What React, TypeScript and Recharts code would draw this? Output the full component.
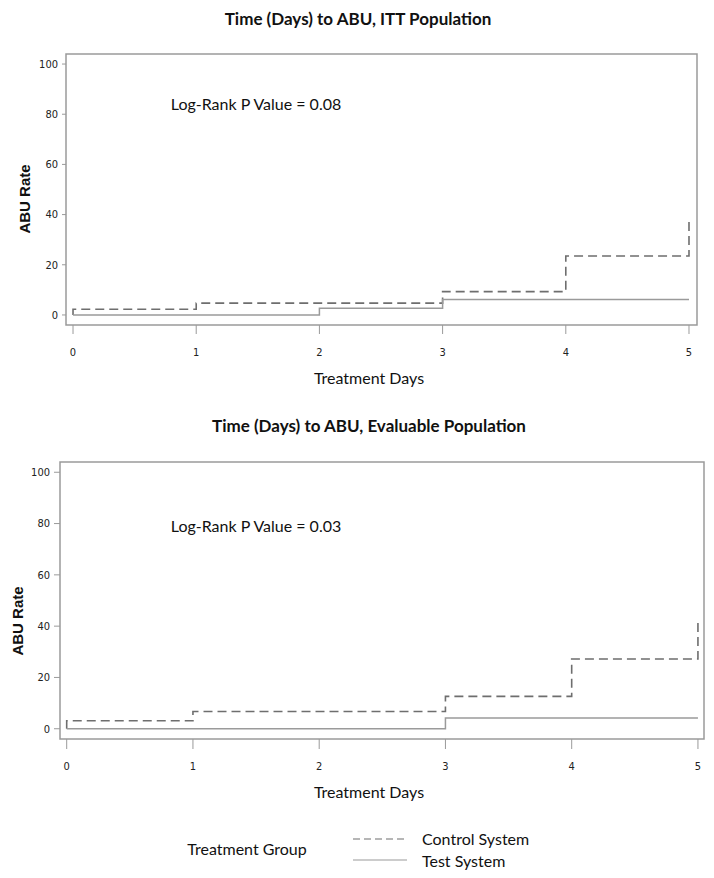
import React from "react";
import { LineChart, Line, XAxis, YAxis, ReferenceArea } from "recharts";

// ITT population (day, ABU rate %)
const ITT_CONTROL_DAYS = [0, 0, 1, 3, 4, 5];
const ITT_CONTROL_RATE = [0, 2.3, 4.7, 9.3, 23.5, 38.8];
const ITT_TEST_DAYS = [0, 2, 3, 5];
const ITT_TEST_RATE = [0, 2.7, 6.2, 6.2];

// Evaluable population
const EVAL_CONTROL_DAYS = [0, 0, 1, 3, 4, 5];
const EVAL_CONTROL_RATE = [0, 3.1, 6.7, 12.6, 27.2, 42];
const EVAL_TEST_DAYS = [0, 3, 5];
const EVAL_TEST_RATE = [0, 4.2, 4.2];

const DAY_TICKS = [0, 1, 2, 3, 4, 5];
const RATE_TICKS = [0, 20, 40, 60, 80, 100];

const toRows = (days: number[], rates: number[]) =>
  days.map((d, i) => ({ day: d, rate: rates[i] }));

const FRAME = "#9a9a9a";
const CONTROL_COLOR = "#6e6e6e";
const TEST_COLOR = "#9a9a9a";
const TICK_FONT = {
  fontSize: 11,
  fill: "#222",
  fontFamily: "'Liberation Sans Narrow', 'DejaVu Sans Condensed', 'Liberation Sans', sans-serif",
};

function Txt({ x, y, children, size = 16, bold = false, font = "Lato", rotate = 0, anchor = "center" }: any) {
  const tx = anchor === "center" ? "-50%" : "0";
  return (
    <div
      style={{
        position: "absolute",
        left: x,
        top: y,
        transform: `translate(${tx}, -50%) rotate(${rotate}deg)`,
        fontSize: size,
        fontWeight: bold ? 700 : 400,
        fontFamily: font,
        color: "#111",
        whiteSpace: "nowrap",
        lineHeight: 1,
      }}
    >
      {children}
    </div>
  );
}

function KMPlot({
  control, test, xDomain, margin, yWidth, yTickSize, xTickSize, xTickMargin,
}: any) {
  return (
    <LineChart width={714} height={400} margin={margin}>
      <XAxis
        type="number"
        dataKey="day"
        domain={xDomain}
        ticks={DAY_TICKS}
        allowDataOverflow
        axisLine={false}
        tickLine={{ stroke: FRAME }}
        tickSize={xTickSize}
        tickMargin={xTickMargin}
        tick={TICK_FONT}
        height={40}
      />
      <YAxis
        type="number"
        dataKey="rate"
        domain={[-4, 104]}
        ticks={RATE_TICKS}
        allowDataOverflow
        axisLine={false}
        tickLine={{ stroke: FRAME }}
        tickSize={yTickSize}
        tickMargin={4}
        tick={TICK_FONT}
        width={yWidth}
      />
      <ReferenceArea x1={xDomain[0]} x2={xDomain[1]} y1={-4} y2={104} fill="none" stroke={FRAME} strokeWidth={1.5} />
      <Line
        data={control}
        dataKey="rate"
        type="stepAfter"
        stroke={CONTROL_COLOR}
        strokeWidth={1.6}
        strokeDasharray="9 5"
        dot={false}
        isAnimationActive={false}
      />
      <Line
        data={test}
        dataKey="rate"
        type="stepAfter"
        stroke={TEST_COLOR}
        strokeWidth={1.5}
        dot={false}
        isAnimationActive={false}
      />
    </LineChart>
  );
}

export default function App() {
  return (
    <div style={{ position: "absolute", left: 0, top: 0, width: 714, height: 878, background: "#fff", overflow: "hidden" }}>
      <div style={{ position: "absolute", left: 0, top: 0 }}>
        <KMPlot
          control={toRows(ITT_CONTROL_DAYS, ITT_CONTROL_RATE)}
          test={toRows(ITT_TEST_DAYS, ITT_TEST_RATE)}
          xDomain={[-0.057, 5.065]}
          margin={{ top: 54, right: 17, left: 0, bottom: 35 }}
          yWidth={66}
          yTickSize={4}
          xTickSize={9}
          xTickMargin={14}
        />
      </div>
      <div style={{ position: "absolute", left: 0, top: 400 }}>
        <KMPlot
          control={toRows(EVAL_CONTROL_DAYS, EVAL_CONTROL_RATE)}
          test={toRows(EVAL_TEST_DAYS, EVAL_TEST_RATE)}
          xDomain={[-0.053, 5.048]}
          margin={{ top: 62, right: 10, left: 0, bottom: 21 }}
          yWidth={60}
          yTickSize={6}
          xTickSize={10}
          xTickMargin={13}
        />
      </div>

      <Txt x={358} y={18} size={17} bold>Time (Days) to ABU, ITT Population</Txt>
      <Txt x={256} y={104}>Log-Rank P Value = 0.08</Txt>
      <Txt x={24} y={199} size={15} bold font="'Liberation Sans', Arial, sans-serif" rotate={-90}>ABU Rate</Txt>
      <Txt x={369} y={378}>Treatment Days</Txt>

      <Txt x={369} y={425} size={17} bold>Time (Days) to ABU, Evaluable Population</Txt>
      <Txt x={256} y={526}>Log-Rank P Value = 0.03</Txt>
      <Txt x={17} y={621} size={15} bold font="'Liberation Sans', Arial, sans-serif" rotate={-90}>ABU Rate</Txt>
      <Txt x={369} y={792}>Treatment Days</Txt>

      <Txt x={247} y={849}>Treatment Group</Txt>
      <svg style={{ position: "absolute", left: 0, top: 0 }} width={714} height={878} pointerEvents="none">
        <line x1={353} x2={407} y1={839} y2={839} stroke={CONTROL_COLOR} strokeWidth={1.2} strokeDasharray="7 4" />
        <line x1={353} x2={407} y1={860} y2={860} stroke={TEST_COLOR} strokeWidth={1.2} />
      </svg>
      <Txt x={422} y={839} anchor="left">Control System</Txt>
      <Txt x={422} y={861} anchor="left">Test System</Txt>
    </div>
  );
}
